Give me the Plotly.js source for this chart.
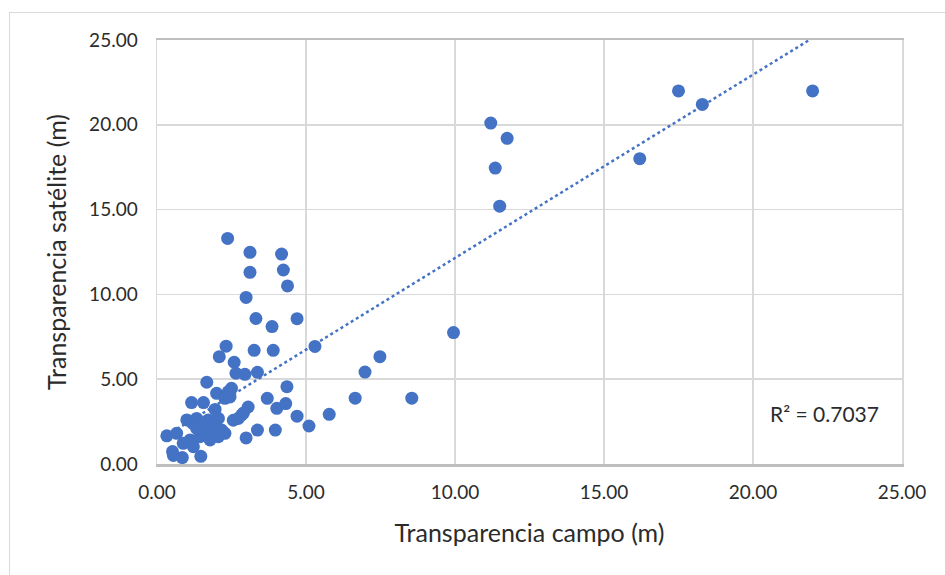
<!DOCTYPE html>
<html>
<head>
<meta charset="utf-8">
<script src="https://cdn.plot.ly/plotly-3.0.1.min.js"></script>
<style>
  html, body { margin: 0; padding: 0; background: #fff; width: 945px; height: 575px; overflow: hidden; }
  #frame { position: absolute; left: 9px; top: 12px; width: 960px; height: 600px; border: 1.5px solid #d9d9d9; box-sizing: border-box; }
  #chart { position: absolute; left: 0; top: 0; width: 945px; height: 575px; }
</style>
</head>
<body>
<div id="frame"></div>
<div id="chart"></div>
<script>
// Secchi transparency: field measurement vs. satellite estimate (m)
const campo = [
  22.0, 17.5, 18.3, 16.2, 11.2, 11.75, 11.35, 11.5, 9.95, 8.55,
  7.48, 6.98, 6.65, 5.78, 5.1, 5.3, 4.7, 4.7, 2.37, 3.12,
  4.18, 3.12, 4.24, 4.38, 2.99, 3.32, 3.86, 2.32, 2.09, 3.26,
  3.9, 2.59, 2.65, 2.95, 3.37, 1.67, 2.0, 2.39, 2.28, 2.5,
  4.36, 3.7, 4.02, 4.32, 3.06, 2.9, 2.73, 2.56, 1.16, 1.56,
  1.95, 3.37, 3.97, 2.99, 1.0, 1.33, 1.72, 2.06, 2.17, 2.28,
  0.33, 0.66, 0.52, 0.85, 1.47, 1.11, 1.44, 1.78, 2.06, 0.88,
  1.22, 1.61, 1.33, 1.83, 2.45, 1.9, 1.55, 0.55, 1.2, 2.84
];
const satelite = [
  22.0, 22.0, 21.2, 18.0, 20.1, 19.2, 17.45, 15.2, 7.75, 3.88,
  6.33, 5.42, 3.88, 2.93, 2.24, 6.93, 8.57, 2.82, 13.3, 12.48,
  12.38, 11.3, 11.44, 10.5, 9.82, 8.58, 8.1, 6.95, 6.33, 6.7,
  6.7, 6.0, 5.35, 5.29, 5.41, 4.82, 4.17, 4.26, 3.87, 4.46,
  4.56, 3.87, 3.28, 3.56, 3.36, 3.0, 2.69, 2.58, 3.62, 3.62,
  3.22, 2.0, 2.0, 1.54, 2.6, 2.69, 2.6, 2.69, 2.0, 1.81,
  1.66, 1.81, 0.73, 0.38, 0.45, 1.42, 1.61, 1.42, 1.61, 1.22,
  1.02, 1.81, 2.1, 2.0, 3.95, 2.3, 2.4, 0.5, 2.4, 2.89
];
const tickVals = [0, 5, 10, 15, 20, 25];
const tickText = ['0.00', '5.00', '10.00', '15.00', '20.00', '25.00'];
const r2Label = 'R² = 0.7037';

// least-squares linear trend over the data
const n = campo.length;
const mx = campo.reduce((a, b) => a + b, 0) / n;
const my = satelite.reduce((a, b) => a + b, 0) / n;
let sxy = 0, sxx = 0;
for (let i = 0; i < n; i++) { sxy += (campo[i] - mx) * (satelite[i] - my); sxx += (campo[i] - mx) ** 2; }
const slope = sxy / sxx;
const intercept = my - slope * mx;
const xMin = Math.min(...campo), xMax = Math.max(...campo);
const trendX = [], trendY = [];
for (let k = 0; k <= 200; k++) {
  const x = xMin + (xMax - xMin) * k / 200;
  trendX.push(x); trendY.push(intercept + slope * x);
}

const blue = '#4472C4';
const font = 'Lato, "Open Sans", sans-serif';

const traces = [
  {
    x: campo, y: satelite, type: 'scatter', mode: 'markers',
    marker: { color: blue, size: 13, line: { width: 0 } },
    hoverinfo: 'x+y'
  },
  {
    x: trendX, y: trendY, type: 'scatter', mode: 'lines',
    line: { color: blue, width: 2.5, dash: 'dot' },
    hoverinfo: 'skip'
  }
];

const axisBase = {
  range: [0, 25], tickvals: tickVals, ticktext: tickText,
  showgrid: true, gridcolor: '#d9d9d9', gridwidth: 1.5,
  zeroline: false, showline: true, linecolor: '#d9d9d9', linewidth: 1.5, mirror: true,
  ticks: '', tickfont: { family: font, size: 19, color: '#2b2b2b' }, fixedrange: true
};

const layout = {
  width: 945, height: 575,
  margin: { l: 157, r: 43, t: 40, b: 111 },
  paper_bgcolor: 'rgba(0,0,0,0)', plot_bgcolor: '#fff',
  showlegend: false,
  xaxis: Object.assign({}, axisBase, {
    linecolor: '#bfbfbf', linewidth: 2.5,
    ticklabelstandoff: 10,
    title: { text: 'Transparencia campo (m)', font: { family: font, size: 25, color: '#2b2b2b' }, standoff: 22 }
  }),
  yaxis: Object.assign({}, axisBase, {
    ticklabelstandoff: 14,
    title: { text: 'Transparencia satélite (m)', font: { family: font, size: 25, color: '#2b2b2b' }, standoff: 15 }
  }),
  annotations: [{
    x: 22.4, y: 2.95, xref: 'x', yref: 'y', text: r2Label, showarrow: false,
    font: { family: font, size: 21, color: '#2b2b2b' }
  }]
};

Plotly.newPlot('chart', traces, layout, { displayModeBar: false, staticPlot: true });
</script>
</body>
</html>
